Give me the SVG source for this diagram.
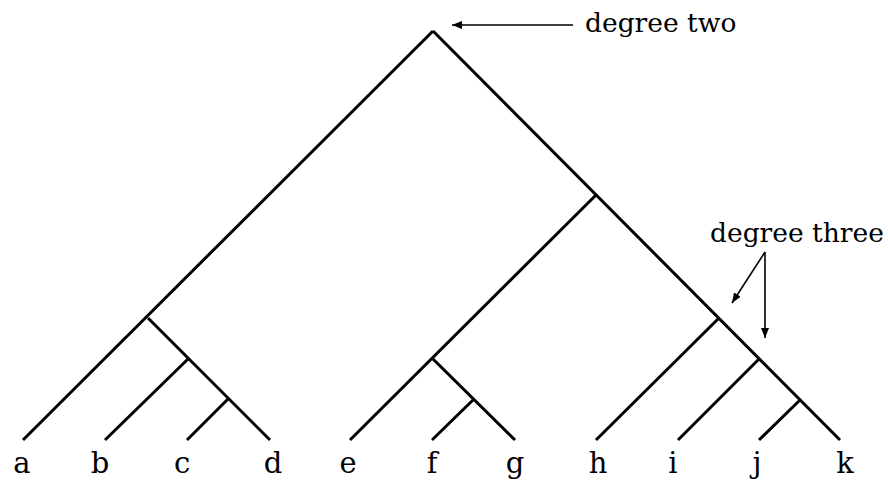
<svg xmlns="http://www.w3.org/2000/svg" width="888" height="482" viewBox="0 0 888 482">
<defs>
<marker id="ah" markerWidth="10" markerHeight="8" refX="10" refY="4" orient="auto" markerUnits="userSpaceOnUse">
<path d="M0,0 L10,4 L0,8 Z" fill="#000"/>
</marker>
<style>
.e{stroke:#000;stroke-width:3;fill:none;stroke-linecap:butt}
.a{stroke:#000;stroke-width:1.6;fill:none;marker-end:url(#ah)}
text{font-family:'DejaVu Serif','Liberation Serif',serif;font-size:29px;fill:#000}
.h{font-size:26.5px}
.l{text-anchor:middle}
</style>
</defs>
<rect width="888" height="482" fill="#fff"/>
<g id="connectors">
<path class="e" d="M433,31 L23,440"/>
<path class="e" d="M433,31 L840,440"/>
<path class="e" d="M148,318 L270,440"/>
<path class="e" d="M188,359 L105,440"/>
<path class="e" d="M228,399 L187,440"/>
<path class="e" d="M596,195 L350,440"/>
<path class="e" d="M433,359 L515,440"/>
<path class="e" d="M473,400 L432,440"/>
<path class="e" d="M718,319 L596,440"/>
<path class="e" d="M759,359 L678,440"/>
<path class="e" d="M800,400 L759,440"/>
<path class="a" d="M573,25 L452,25"/>
<path class="a" d="M765,252 L732,303"/>
<path class="a" d="M765,252 L765,338"/>
</g>
<g id="label-two"><text class="h" x="585" y="32">degree two</text></g>
<g id="label-three"><text class="h" x="710" y="242">degree three</text></g>
<g id="leaves">
<g id="a"><text class="l" x="22" y="473">a</text></g>
<g id="b"><text class="l" x="100" y="473">b</text></g>
<g id="c"><text class="l" x="182" y="473">c</text></g>
<g id="d"><text class="l" x="273" y="473">d</text></g>
<g id="e"><text class="l" x="348" y="473">e</text></g>
<g id="f"><text class="l" x="432" y="473">f</text></g>
<g id="g"><text class="l" x="515" y="473">g</text></g>
<g id="h"><text class="l" x="598" y="473">h</text></g>
<g id="i"><text class="l" x="673" y="473">i</text></g>
<g id="j"><text class="l" x="757" y="473">j</text></g>
<g id="k"><text class="l" x="845" y="473">k</text></g>
</g>
</svg>
